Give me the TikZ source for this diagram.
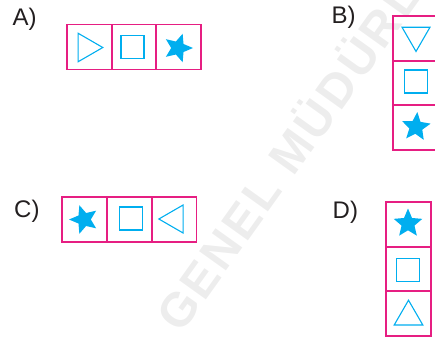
\documentclass[tikz,border=0pt]{standalone}
\usepackage{fontspec}
\setmainfont{Liberation Sans}
\newfontfamily\wmfont[LetterSpace=6]{Liberation Sans}
\usetikzlibrary{shapes.geometric}
\definecolor{pinkc}{RGB}{230,30,130}
\definecolor{cyanc}{RGB}{0,174,239}
\definecolor{txt}{RGB}{35,31,32}
\definecolor{wm}{RGB}{237,237,237}
\begin{document}
\begin{tikzpicture}[x=1pt,y=-1pt,
  cell/.style={draw=pinkc,line width=1.5pt,minimum width=45pt,minimum height=45pt,inner sep=0pt,outer sep=0pt},
  tri/.style={regular polygon,regular polygon sides=3,draw=cyanc,line width=1.1pt,minimum size=33pt,inner sep=0pt},
  sq/.style={rectangle,draw=cyanc,line width=1.1pt,minimum size=23pt,inner sep=0pt},
  st/.style={star,star points=5,star point ratio=2.2,fill=cyanc,minimum size=30pt,inner sep=0pt},
  lbl/.style={anchor=base west,inner sep=0pt,font=\fontsize{24}{24}\selectfont,text=txt}]
\useasboundingbox (0,0) rectangle (435,338);
\clip (0,0) rectangle (435,338);
% watermark
\node[anchor=base west,inner sep=0pt,rotate=54.4,text=wm,font=\wmfont\bfseries\fontsize{48}{48}\selectfont] (wmark) at (181,335) {GENEL MÜDÜRLÜĞÜ};
% labels
\node[lbl] (la) at (12.5,25) {A)};
\node[lbl] (lb) at (331.5,23) {B)};
\node[lbl] (lc) at (14,217) {C)};
\node[lbl] (ld) at (332.5,218) {D)};
% A
\node[cell] (a1) at (89.5,47) {};
\node[cell] (a2) at (134,47) {};
\node[cell] (a3) at (178.5,47) {};
\node[tri,shape border rotate=-90] (ta) at (86.3,47.5) {};
\node[sq] (sa) at (132.5,47) {};
\node[st,shape border rotate=-18] (xa) at (178,48) {};
% B
\node[cell] (b1) at (415.5,38.5) {};
\node[cell] (b2) at (415.5,83) {};
\node[cell] (b3) at (415.5,127.5) {};
\node[tri,shape border rotate=180,minimum size=32.3pt] (tb) at (416,35.3) {};
\node[sq] (sb) at (416,81.5) {};
\node[st,shape border rotate=-5] (xb) at (416,127) {};
% C
\node[cell] (c1) at (84.5,219.5) {};
\node[cell] (c2) at (129.5,219.5) {};
\node[cell] (c3) at (174,219.5) {};
\node[st,shape border rotate=18] (xc) at (84,219.5) {};
\node[sq] (sc) at (131,218.5) {};
\node[tri,shape border rotate=90,minimum size=32.3pt] (tc) at (175,219) {};
% D
\node[cell] (d1) at (408.5,224.5) {};
\node[cell] (d2) at (408.5,269) {};
\node[cell] (d3) at (408.5,313.5) {};
\node[st] (xd) at (408,223.5) {};
\node[sq] (sd) at (408,270) {};
\node[tri] (td) at (408.5,316.7) {};
\end{tikzpicture}
\end{document}
